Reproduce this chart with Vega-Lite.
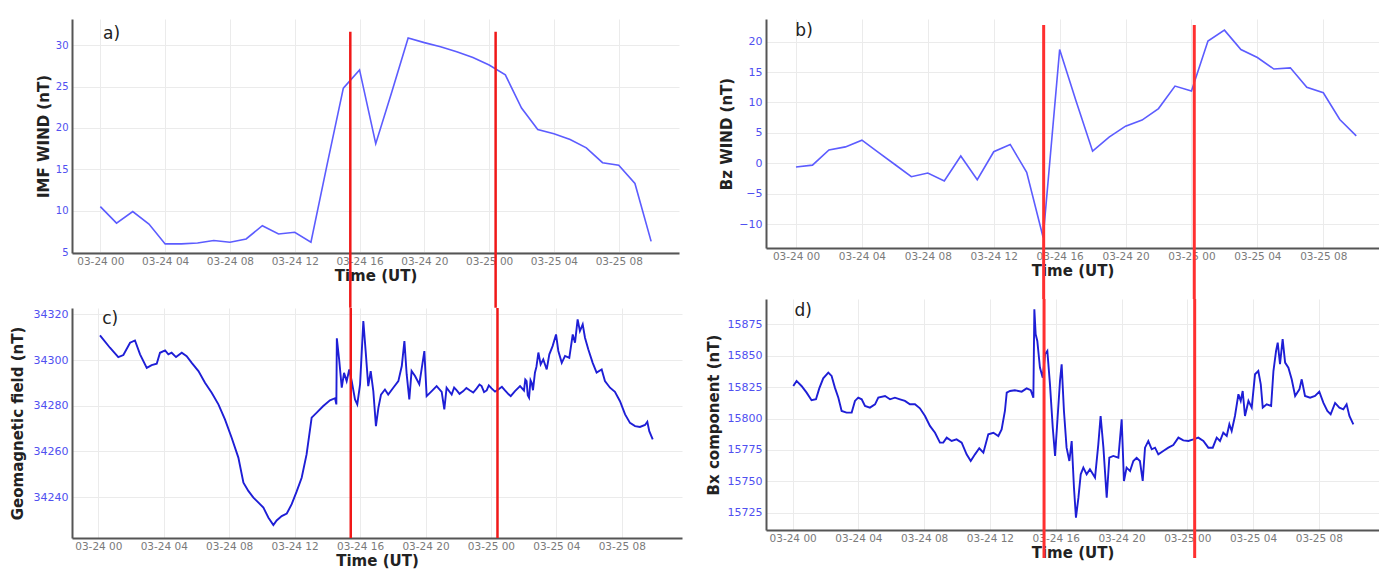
{
  "$schema": "https://vega.github.io/schema/vega-lite/v6.json",
  "background": "white",
  "padding": {"left": 10, "top": 19, "right": 0, "bottom": 0},
  "autosize": {"type": "pad"},
  "config": {
    "view": {"stroke": null},
    "font": "DejaVu Sans",
    "axis": {"gridColor": "#ebebeb", "gridWidth": 1, "domainColor": "#555555", "domainWidth": 2, "ticks": false, "labelOverlap": false, "labelFont": "DejaVu Sans", "titleFont": "DejaVu Sans", "titleFontWeight": "bold", "titleColor": "#222222", "titleFontSize": 15},
    "axisX": {"labelColor": "#7a7a7a", "labelFontSize": 10.5, "labelPadding": 3, "titlePadding": 2, "labelFlush": false, "labelExpr": "(datum.value < 24 ? '03-24 ' : '03-25 ') + ((datum.value % 24) < 10 ? '0' : '') + (datum.value % 24)"},
    "axisY": {"labelColor": "#5050f0", "labelFontSize": 11, "labelPadding": 4}
  },
  "datasets": {
    "imf": [
      {"h": 0, "v": 10.5}, {"h": 1, "v": 8.5}, {"h": 2, "v": 9.9}, {"h": 3, "v": 8.4}, {"h": 4, "v": 6.0}, {"h": 5, "v": 6.0}, {"h": 6, "v": 6.1},
      {"h": 7, "v": 6.4}, {"h": 8, "v": 6.2}, {"h": 9, "v": 6.6}, {"h": 10, "v": 8.2}, {"h": 11, "v": 7.2}, {"h": 12, "v": 7.4}, {"h": 13, "v": 6.2},
      {"h": 14, "v": 15.6}, {"h": 15, "v": 24.8}, {"h": 16, "v": 27.0}, {"h": 17, "v": 18.1}, {"h": 18, "v": 24.4}, {"h": 19, "v": 30.85}, {"h": 20, "v": 30.3},
      {"h": 21, "v": 29.8}, {"h": 22, "v": 29.2}, {"h": 23, "v": 28.5}, {"h": 24, "v": 27.6}, {"h": 25, "v": 26.4}, {"h": 26, "v": 22.4}, {"h": 27, "v": 19.8},
      {"h": 28, "v": 19.3}, {"h": 29, "v": 18.6}, {"h": 30, "v": 17.6}, {"h": 31, "v": 15.8}, {"h": 32, "v": 15.5}, {"h": 33, "v": 13.3}, {"h": 34, "v": 6.3}
    ],
    "bz": [
      {"h": 0, "v": -0.6}, {"h": 1, "v": -0.3}, {"h": 2, "v": 2.2}, {"h": 3, "v": 2.7}, {"h": 4, "v": 3.8}, {"h": 5, "v": 1.8}, {"h": 6, "v": -0.2},
      {"h": 7, "v": -2.2}, {"h": 8, "v": -1.6}, {"h": 9, "v": -2.9}, {"h": 10, "v": 1.2}, {"h": 11, "v": -2.7}, {"h": 12, "v": 1.9}, {"h": 13, "v": 3.1},
      {"h": 14, "v": -1.5}, {"h": 15, "v": -12.2}, {"h": 16, "v": 18.7}, {"h": 17, "v": 10.2}, {"h": 18, "v": 2.0}, {"h": 19, "v": 4.3}, {"h": 20, "v": 6.1},
      {"h": 21, "v": 7.1}, {"h": 22, "v": 9.0}, {"h": 23, "v": 12.7}, {"h": 24, "v": 11.9}, {"h": 25, "v": 20.1}, {"h": 26, "v": 21.9}, {"h": 27, "v": 18.7},
      {"h": 28, "v": 17.4}, {"h": 29, "v": 15.5}, {"h": 30, "v": 15.7}, {"h": 31, "v": 12.5}, {"h": 32, "v": 11.6}, {"h": 33, "v": 7.2}, {"h": 34, "v": 4.5}
    ],
    "geo": [
      {"h": 0.10, "v": 34310.8}, {"h": 0.71, "v": 34305.4}, {"h": 1.22, "v": 34301.3}, {"h": 1.53, "v": 34302.2}, {"h": 1.94, "v": 34307.6}, {"h": 2.24, "v": 34308.6},
      {"h": 2.55, "v": 34302.5}, {"h": 2.96, "v": 34296.6}, {"h": 3.26, "v": 34297.8}, {"h": 3.57, "v": 34298.4}, {"h": 3.77, "v": 34303.2}, {"h": 4.08, "v": 34304.2},
      {"h": 4.28, "v": 34302.5}, {"h": 4.48, "v": 34303.2}, {"h": 4.75, "v": 34301.3}, {"h": 5.10, "v": 34303.2}, {"h": 5.40, "v": 34301.7}, {"h": 5.71, "v": 34298.8},
      {"h": 6.12, "v": 34295.2}, {"h": 6.52, "v": 34290.1}, {"h": 6.93, "v": 34285.7}, {"h": 7.34, "v": 34280.6}, {"h": 7.74, "v": 34274.0}, {"h": 8.15, "v": 34266.0},
      {"h": 8.56, "v": 34257.3}, {"h": 8.87, "v": 34246.3}, {"h": 9.17, "v": 34242.7}, {"h": 9.48, "v": 34239.8}, {"h": 9.79, "v": 34237.6}, {"h": 10.09, "v": 34235.4},
      {"h": 10.40, "v": 34231.0}, {"h": 10.70, "v": 34227.8}, {"h": 10.90, "v": 34229.8}, {"h": 11.21, "v": 34231.7}, {"h": 11.52, "v": 34232.8}, {"h": 11.82, "v": 34236.9},
      {"h": 12.12, "v": 34242.4}, {"h": 12.43, "v": 34248.5}, {"h": 12.73, "v": 34258.7}, {"h": 13.04, "v": 34274.8}, {"h": 13.35, "v": 34277.0}, {"h": 13.75, "v": 34279.9},
      {"h": 14.16, "v": 34282.4}, {"h": 14.47, "v": 34283.3}, {"h": 14.55, "v": 34280.6}, {"h": 14.58, "v": 34309.5}, {"h": 14.73, "v": 34299.6}, {"h": 14.88, "v": 34287.9},
      {"h": 15.02, "v": 34294.4}, {"h": 15.18, "v": 34290.8}, {"h": 15.34, "v": 34295.9}, {"h": 15.49, "v": 34290.8}, {"h": 15.69, "v": 34282.8}, {"h": 15.83, "v": 34280.6},
      {"h": 16.00, "v": 34289.4}, {"h": 16.20, "v": 34317.1}, {"h": 16.34, "v": 34304.0}, {"h": 16.50, "v": 34288.6}, {"h": 16.65, "v": 34295.2}, {"h": 16.81, "v": 34286.4},
      {"h": 16.97, "v": 34271.1}, {"h": 17.12, "v": 34279.1}, {"h": 17.28, "v": 34284.9}, {"h": 17.52, "v": 34287.1}, {"h": 17.72, "v": 34284.9}, {"h": 18.03, "v": 34287.9},
      {"h": 18.34, "v": 34290.8}, {"h": 18.55, "v": 34297.4}, {"h": 18.71, "v": 34308.3}, {"h": 18.85, "v": 34293.7}, {"h": 19.01, "v": 34282.8}, {"h": 19.15, "v": 34295.2},
      {"h": 19.36, "v": 34293.0}, {"h": 19.62, "v": 34289.4}, {"h": 19.93, "v": 34303.9}, {"h": 20.07, "v": 34284.2}, {"h": 20.38, "v": 34286.4}, {"h": 20.68, "v": 34288.6},
      {"h": 20.99, "v": 34286.1}, {"h": 21.15, "v": 34278.4}, {"h": 21.29, "v": 34287.9}, {"h": 21.60, "v": 34284.9}, {"h": 21.75, "v": 34288.0}, {"h": 21.91, "v": 34286.7},
      {"h": 22.08, "v": 34285.2}, {"h": 22.31, "v": 34286.4}, {"h": 22.50, "v": 34287.8}, {"h": 22.72, "v": 34286.7}, {"h": 22.92, "v": 34285.8}, {"h": 23.13, "v": 34287.6},
      {"h": 23.30, "v": 34289.3}, {"h": 23.43, "v": 34288.6}, {"h": 23.58, "v": 34286.0}, {"h": 23.74, "v": 34286.7}, {"h": 23.87, "v": 34288.9}, {"h": 24.04, "v": 34287.6},
      {"h": 24.25, "v": 34286.2}, {"h": 24.45, "v": 34287.1}, {"h": 24.67, "v": 34288.3}, {"h": 24.86, "v": 34286.7}, {"h": 25.08, "v": 34285.0}, {"h": 25.21, "v": 34284.2},
      {"h": 25.47, "v": 34286.4}, {"h": 25.78, "v": 34288.6}, {"h": 26.02, "v": 34286.7}, {"h": 26.10, "v": 34291.5}, {"h": 26.18, "v": 34290.8}, {"h": 26.25, "v": 34284.6},
      {"h": 26.33, "v": 34283.5}, {"h": 26.42, "v": 34291.2}, {"h": 26.49, "v": 34290.1}, {"h": 26.57, "v": 34286.8}, {"h": 26.69, "v": 34294.5}, {"h": 26.78, "v": 34297.0},
      {"h": 26.90, "v": 34303.3}, {"h": 27.04, "v": 34298.1}, {"h": 27.20, "v": 34300.3}, {"h": 27.41, "v": 34295.9}, {"h": 27.57, "v": 34302.5}, {"h": 27.77, "v": 34306.1},
      {"h": 27.98, "v": 34311.2}, {"h": 28.12, "v": 34304.0}, {"h": 28.33, "v": 34298.8}, {"h": 28.53, "v": 34301.8}, {"h": 28.79, "v": 34301.0}, {"h": 29.00, "v": 34311.2},
      {"h": 29.14, "v": 34307.6}, {"h": 29.30, "v": 34317.8}, {"h": 29.44, "v": 34312.7}, {"h": 29.61, "v": 34315.6}, {"h": 29.75, "v": 34309.8}, {"h": 29.95, "v": 34304.7},
      {"h": 30.22, "v": 34298.8}, {"h": 30.46, "v": 34294.5}, {"h": 30.77, "v": 34295.9}, {"h": 30.97, "v": 34290.8}, {"h": 31.28, "v": 34287.9}, {"h": 31.58, "v": 34286.1},
      {"h": 31.89, "v": 34282.0}, {"h": 32.20, "v": 34276.2}, {"h": 32.50, "v": 34272.5}, {"h": 32.81, "v": 34271.1}, {"h": 33.11, "v": 34270.7}, {"h": 33.42, "v": 34271.6},
      {"h": 33.56, "v": 34273.0}, {"h": 33.68, "v": 34268.9}, {"h": 33.89, "v": 34265.3}
    ],
    "bx": [
      {"h": 0.04, "v": 15825.9}, {"h": 0.24, "v": 15829.9}, {"h": 0.54, "v": 15825.9}, {"h": 0.85, "v": 15820.6}, {"h": 1.15, "v": 15814.5}, {"h": 1.42, "v": 15815.3},
      {"h": 1.62, "v": 15824.0}, {"h": 1.86, "v": 15832.0}, {"h": 2.17, "v": 15836.5}, {"h": 2.37, "v": 15833.9}, {"h": 2.57, "v": 15824.6}, {"h": 2.78, "v": 15816.6},
      {"h": 2.98, "v": 15806.0}, {"h": 3.28, "v": 15804.7}, {"h": 3.59, "v": 15804.7}, {"h": 3.79, "v": 15814.0}, {"h": 3.99, "v": 15816.6}, {"h": 4.20, "v": 15815.3},
      {"h": 4.40, "v": 15810.0}, {"h": 4.70, "v": 15808.7}, {"h": 5.01, "v": 15811.3}, {"h": 5.21, "v": 15816.6}, {"h": 5.62, "v": 15817.9}, {"h": 5.92, "v": 15815.3},
      {"h": 6.22, "v": 15816.6}, {"h": 6.53, "v": 15815.3}, {"h": 6.83, "v": 15814.0}, {"h": 7.13, "v": 15811.3}, {"h": 7.44, "v": 15811.3}, {"h": 7.74, "v": 15808.1},
      {"h": 8.05, "v": 15802.0}, {"h": 8.35, "v": 15794.1}, {"h": 8.66, "v": 15788.7}, {"h": 8.96, "v": 15780.8}, {"h": 9.16, "v": 15780.8}, {"h": 9.37, "v": 15784.8},
      {"h": 9.67, "v": 15782.1}, {"h": 9.97, "v": 15783.4}, {"h": 10.28, "v": 15780.8}, {"h": 10.58, "v": 15771.5}, {"h": 10.83, "v": 15766.2}, {"h": 11.09, "v": 15771.5},
      {"h": 11.35, "v": 15776.3}, {"h": 11.60, "v": 15772.8}, {"h": 11.90, "v": 15787.4}, {"h": 12.21, "v": 15788.7}, {"h": 12.51, "v": 15786.1}, {"h": 12.71, "v": 15791.4},
      {"h": 12.91, "v": 15806.0}, {"h": 13.02, "v": 15820.6}, {"h": 13.22, "v": 15821.9}, {"h": 13.52, "v": 15822.5}, {"h": 13.93, "v": 15821.4}, {"h": 14.23, "v": 15824.0},
      {"h": 14.48, "v": 15822.5}, {"h": 14.64, "v": 15816.6}, {"h": 14.70, "v": 15886.9}, {"h": 14.78, "v": 15867.0}, {"h": 14.88, "v": 15861.7}, {"h": 15.04, "v": 15840.5},
      {"h": 15.21, "v": 15832.5}, {"h": 15.35, "v": 15851.1}, {"h": 15.49, "v": 15853.8}, {"h": 15.65, "v": 15827.2}, {"h": 15.82, "v": 15792.7}, {"h": 15.96, "v": 15770.2},
      {"h": 16.10, "v": 15798.0}, {"h": 16.26, "v": 15829.9}, {"h": 16.36, "v": 15843.2}, {"h": 16.50, "v": 15806.0}, {"h": 16.66, "v": 15776.8}, {"h": 16.83, "v": 15766.2},
      {"h": 16.97, "v": 15782.1}, {"h": 17.11, "v": 15744.9}, {"h": 17.23, "v": 15721.1}, {"h": 17.38, "v": 15737.0}, {"h": 17.52, "v": 15755.6}, {"h": 17.68, "v": 15760.9},
      {"h": 17.88, "v": 15755.6}, {"h": 18.08, "v": 15759.6}, {"h": 18.39, "v": 15753.0}, {"h": 18.59, "v": 15779.5}, {"h": 18.73, "v": 15802.0}, {"h": 18.90, "v": 15776.8},
      {"h": 19.10, "v": 15737.0}, {"h": 19.26, "v": 15768.8}, {"h": 19.50, "v": 15770.2}, {"h": 19.81, "v": 15768.8}, {"h": 20.01, "v": 15799.4}, {"h": 20.15, "v": 15750.3},
      {"h": 20.31, "v": 15760.9}, {"h": 20.52, "v": 15758.2}, {"h": 20.72, "v": 15766.2}, {"h": 20.92, "v": 15768.8}, {"h": 21.12, "v": 15766.2}, {"h": 21.29, "v": 15750.3},
      {"h": 21.43, "v": 15776.8}, {"h": 21.63, "v": 15782.1}, {"h": 21.84, "v": 15775.5}, {"h": 22.04, "v": 15776.8}, {"h": 22.24, "v": 15771.5}, {"h": 22.54, "v": 15774.2},
      {"h": 22.85, "v": 15776.8}, {"h": 23.15, "v": 15778.9}, {"h": 23.46, "v": 15784.8}, {"h": 23.76, "v": 15782.6}, {"h": 24.07, "v": 15782.1}, {"h": 24.37, "v": 15783.4},
      {"h": 24.67, "v": 15784.8}, {"h": 24.98, "v": 15782.1}, {"h": 25.28, "v": 15776.8}, {"h": 25.55, "v": 15776.8}, {"h": 25.79, "v": 15784.8}, {"h": 25.99, "v": 15782.1},
      {"h": 26.19, "v": 15788.7}, {"h": 26.40, "v": 15786.1}, {"h": 26.56, "v": 15795.4}, {"h": 26.70, "v": 15790.1}, {"h": 26.90, "v": 15802.0}, {"h": 27.11, "v": 15819.3},
      {"h": 27.25, "v": 15814.0}, {"h": 27.37, "v": 15821.9}, {"h": 27.51, "v": 15802.0}, {"h": 27.72, "v": 15814.0}, {"h": 27.92, "v": 15808.7}, {"h": 28.12, "v": 15835.2},
      {"h": 28.32, "v": 15837.8}, {"h": 28.47, "v": 15827.2}, {"h": 28.59, "v": 15808.7}, {"h": 28.83, "v": 15811.3}, {"h": 29.10, "v": 15810.0}, {"h": 29.24, "v": 15837.8},
      {"h": 29.40, "v": 15853.8}, {"h": 29.50, "v": 15860.4}, {"h": 29.64, "v": 15843.2}, {"h": 29.80, "v": 15863.1}, {"h": 29.95, "v": 15844.5}, {"h": 30.15, "v": 15840.5},
      {"h": 30.35, "v": 15831.2}, {"h": 30.56, "v": 15817.9}, {"h": 30.82, "v": 15823.2}, {"h": 30.96, "v": 15831.2}, {"h": 31.16, "v": 15817.9}, {"h": 31.47, "v": 15816.6},
      {"h": 31.77, "v": 15817.9}, {"h": 32.03, "v": 15821.4}, {"h": 32.28, "v": 15812.4}, {"h": 32.52, "v": 15806.0}, {"h": 32.72, "v": 15803.3}, {"h": 32.99, "v": 15812.4},
      {"h": 33.25, "v": 15808.7}, {"h": 33.49, "v": 15807.3}, {"h": 33.69, "v": 15811.3}, {"h": 33.86, "v": 15802.0}, {"h": 34.10, "v": 15795.4}
    ],
    "ev_ac": [{"h": 15.43}, {"h": 24.4}],
    "ev_b": [{"h": 15.03}, {"h": 24.17}],
    "ev_d": [{"h": 15.29}, {"h": 24.45}]
  },
  "spacing": 24,
  "hconcat": [
    {
      "spacing": 55,
      "bounds": "flush",
      "vconcat": [
        {
          "width": 607, "height": 234,
          "layer": [
            {
              "data": {"name": "imf"},
              "mark": {"type": "line", "color": "#5c5cff", "strokeWidth": 1.6},
              "encoding": {
                "x": {"field": "h", "type": "quantitative", "title": "Time (UT)", "scale": {"domain": [-1.75, 35.72], "nice": false, "zero": false}, "axis": {"values": [0, 4, 8, 12, 16, 20, 24, 28, 32]}},
                "y": {"field": "v", "type": "quantitative", "title": "IMF WIND (nT)", "scale": {"domain": [4.9, 33.15], "nice": false, "zero": false}, "axis": {"values": [5, 10, 15, 20, 25, 30], "labelFontSize": 10, "titlePadding": 4}}
              }
            },
            {
              "data": {"name": "ev_ac"},
              "mark": {"type": "rule", "color": "#f01818", "strokeWidth": 2.5},
              "encoding": {
                "x": {"field": "h", "type": "quantitative", "title": "Time (UT)", "axis": {"values": [0, 4, 8, 12, 16, 20, 24, 28, 32]}},
                "y": {"datum": 31.6, "title": "IMF WIND (nT)", "axis": {"values": [5, 10, 15, 20, 25, 30], "labelFontSize": 10, "titlePadding": 4}},
                "y2": {"datum": -1.7}
              }
            },
            {
              "data": {"values": [{}]},
              "mark": {"type": "text", "fontSize": 17, "color": "#222222"},
              "encoding": {
                "x": {"datum": 0.69, "title": "Time (UT)", "axis": {"values": [0, 4, 8, 12, 16, 20, 24, 28, 32]}},
                "y": {"datum": 31.36, "title": "IMF WIND (nT)", "axis": {"values": [5, 10, 15, 20, 25, 30], "labelFontSize": 10, "titlePadding": 4}},
                "text": {"value": "a)"}
              }
            }
          ]
        },
        {
          "width": 610, "height": 230,
          "layer": [
            {
              "data": {"name": "geo"},
              "mark": {"type": "line", "color": "#1e1ed6", "strokeWidth": 1.9},
              "encoding": {
                "x": {"field": "h", "type": "quantitative", "title": "Time (UT)", "scale": {"domain": [-1.61, 35.68], "nice": false, "zero": false}, "axis": {"values": [0, 4, 8, 12, 16, 20, 24, 28, 32]}},
                "y": {"field": "v", "type": "quantitative", "title": "Geomagnetic field (nT)", "scale": {"domain": [34222.1, 34322.8], "nice": false, "zero": false}, "axis": {"values": [34240, 34260, 34280, 34300, 34320], "titlePadding": 8, "format": "d"}}
              }
            },
            {
              "data": {"name": "ev_ac"},
              "mark": {"type": "rule", "color": "#f01818", "strokeWidth": 2.5},
              "encoding": {"x": {"field": "h", "type": "quantitative", "title": "Time (UT)", "axis": {"values": [0, 4, 8, 12, 16, 20, 24, 28, 32]}}}
            },
            {
              "data": {"values": [{}]},
              "mark": {"type": "text", "fontSize": 17, "color": "#222222"},
              "encoding": {
                "x": {"datum": 0.72, "title": "Time (UT)", "axis": {"values": [0, 4, 8, 12, 16, 20, 24, 28, 32]}},
                "y": {"datum": 34317.8, "title": "Geomagnetic field (nT)", "axis": {"values": [34240, 34260, 34280, 34300, 34320], "titlePadding": 8, "format": "d"}},
                "text": {"value": "c)"}
              }
            }
          ]
        }
      ]
    },
    {
      "spacing": 51,
      "bounds": "flush",
      "vconcat": [
        {
          "width": 613, "height": 229,
          "layer": [
            {
              "data": {"name": "bz"},
              "mark": {"type": "line", "color": "#5c5cff", "strokeWidth": 1.6},
              "encoding": {
                "x": {"field": "h", "type": "quantitative", "title": "Time (UT)", "scale": {"domain": [-1.82, 35.38], "nice": false, "zero": false}, "axis": {"values": [0, 4, 8, 12, 16, 20, 24, 28, 32]}},
                "y": {"field": "v", "type": "quantitative", "title": "Bz WIND (nT)", "scale": {"domain": [-13.93, 23.73], "nice": false, "zero": false}, "axis": {"values": [-10, -5, 0, 5, 10, 15, 20], "titlePadding": 4}}
              }
            },
            {
              "data": {"name": "ev_b"},
              "mark": {"type": "rule", "color": "#ff3030", "strokeWidth": 3},
              "encoding": {
                "x": {"field": "h", "type": "quantitative", "title": "Time (UT)", "axis": {"values": [0, 4, 8, 12, 16, 20, 24, 28, 32]}},
                "y": {"datum": 22.75, "title": "Bz WIND (nT)", "axis": {"values": [-10, -5, 0, 5, 10, 15, 20], "titlePadding": 4}},
                "y2": {"datum": -22.3}
              }
            },
            {
              "data": {"values": [{}]},
              "mark": {"type": "text", "fontSize": 17, "color": "#222222"},
              "encoding": {
                "x": {"datum": 0.49, "title": "Time (UT)", "axis": {"values": [0, 4, 8, 12, 16, 20, 24, 28, 32]}},
                "y": {"datum": 21.76, "title": "Bz WIND (nT)", "axis": {"values": [-10, -5, 0, 5, 10, 15, 20], "titlePadding": 4}},
                "text": {"value": "b)"}
              }
            }
          ]
        },
        {
          "width": 613, "height": 231,
          "layer": [
            {
              "data": {"name": "bx"},
              "mark": {"type": "line", "color": "#1e1ed6", "strokeWidth": 1.9},
              "encoding": {
                "x": {"field": "h", "type": "quantitative", "title": "Time (UT)", "scale": {"domain": [-1.62, 35.66], "nice": false, "zero": false}, "axis": {"values": [0, 4, 8, 12, 16, 20, 24, 28, 32]}},
                "y": {"field": "v", "type": "quantitative", "title": "Bx component (nT)", "scale": {"domain": [15711.3, 15895.1], "nice": false, "zero": false}, "axis": {"values": [15725, 15750, 15775, 15800, 15825, 15850, 15875], "titlePadding": 6, "format": "d"}}
              }
            },
            {
              "data": {"name": "ev_d"},
              "mark": {"type": "rule", "color": "#ff3030", "strokeWidth": 3},
              "encoding": {
                "x": {"field": "h", "type": "quantitative", "title": "Time (UT)", "axis": {"values": [0, 4, 8, 12, 16, 20, 24, 28, 32]}},
                "y": {"datum": 15895.1, "title": "Bx component (nT)", "axis": {"values": [15725, 15750, 15775, 15800, 15825, 15850, 15875], "titlePadding": 6, "format": "d"}},
                "y2": {"datum": 15689}
              }
            },
            {
              "data": {"values": [{}]},
              "mark": {"type": "text", "fontSize": 17, "color": "#222222"},
              "encoding": {
                "x": {"datum": 0.64, "title": "Time (UT)", "axis": {"values": [0, 4, 8, 12, 16, 20, 24, 28, 32]}},
                "y": {"datum": 15885.6, "title": "Bx component (nT)", "axis": {"values": [15725, 15750, 15775, 15800, 15825, 15850, 15875], "titlePadding": 6, "format": "d"}},
                "text": {"value": "d)"}
              }
            }
          ]
        }
      ]
    }
  ]
}
